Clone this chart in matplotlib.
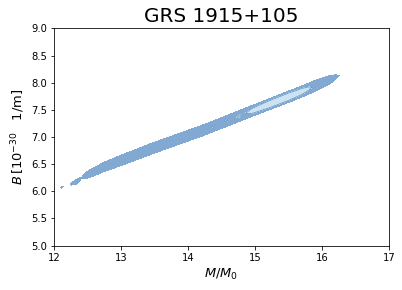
import numpy as np
import matplotlib
matplotlib.use("Agg")
import matplotlib.pyplot as plt

# ---- data ----
title = "GRS 1915+105"
x_ticks = [12, 13, 14, 15, 16, 17]
y_ticks = [5.0, 5.5, 6.0, 6.5, 7.0, 7.5, 8.0, 8.5, 9.0]

# ridge (centre line of the allowed region) in (M/M0, B)
ridge_M = [12.05, 12.12, 12.33, 12.44, 12.75, 13.49, 14.24, 14.85, 15.6, 16.09, 16.25, 16.35]
ridge_B = [6.04, 6.075, 6.17, 6.27, 6.45, 6.80, 7.13, 7.43, 7.79, 8.04, 8.13, 8.17]

# outer contour half-width (in B) along M; negative = no region
outer_M = [12.06, 12.10, 12.12, 12.14, 12.18, 12.23, 12.26, 12.33, 12.39, 12.415, 12.43,
           12.48, 12.6, 12.75, 13.0, 13.5, 14.0, 14.5, 15.0, 15.5, 15.9, 16.1, 16.2, 16.27]
outer_h = [-0.02, 0.0, 0.02, 0.0, -0.03, -0.01, 0.025, 0.04, 0.025, -0.005, 0.035,
           0.06, 0.075, 0.085, 0.095, 0.10, 0.10, 0.10, 0.10, 0.105, 0.10, 0.08, 0.045, -0.01]

# inner contour half-width
inner_M = [14.30, 14.36, 14.40, 14.50, 14.57, 14.62, 14.70, 14.76, 14.82, 14.88, 14.95,
           15.2, 15.5, 15.7, 15.8, 15.87]
inner_h = [-0.01, 0.008, -0.01, -0.01, 0.012, -0.01, -0.01, 0.02, -0.005, 0.01, 0.045,
           0.065, 0.068, 0.055, 0.03, -0.01]

outer_color = "#82a9d1"
inner_color = "#cde3f2"
edge_color = "#6b9acb"

# ---- grid ----
M = np.linspace(12, 17, 401)
B = np.linspace(5, 9, 801)
MM, BB = np.meshgrid(M, B)
Bc = np.interp(MM, ridge_M, ridge_B)
d = np.abs(BB - Bc)
g_out = d - np.interp(MM, outer_M, outer_h, left=-1, right=-1)
g_in = d - np.interp(MM, inner_M, inner_h, left=-1, right=-1)

fig = plt.figure(figsize=(402 / 72, 290 / 72), dpi=72)
ax = fig.add_axes([0.134, 0.153, 0.834, 0.749])

ax.contourf(MM, BB, g_out, levels=[-10, 0], colors=[outer_color])
ax.contourf(MM, BB, g_in, levels=[-10, 0], colors=[inner_color])
ax.contour(MM, BB, g_in, levels=[0], colors=[edge_color], linewidths=0.8)

ax.set_xlim(12, 17)
ax.set_ylim(5, 9)
ax.set_xticks(x_ticks)
ax.set_yticks(y_ticks)
ax.tick_params(labelsize=10)
ax.set_xlabel(r"$M/M_0$", fontsize=13)
ax.set_ylabel(r"$B\,[10^{-30}\quad 1/\mathrm{m}]$", fontsize=13)
ax.set_title(title, fontsize=20)

fig.savefig("out.png", dpi=72)
